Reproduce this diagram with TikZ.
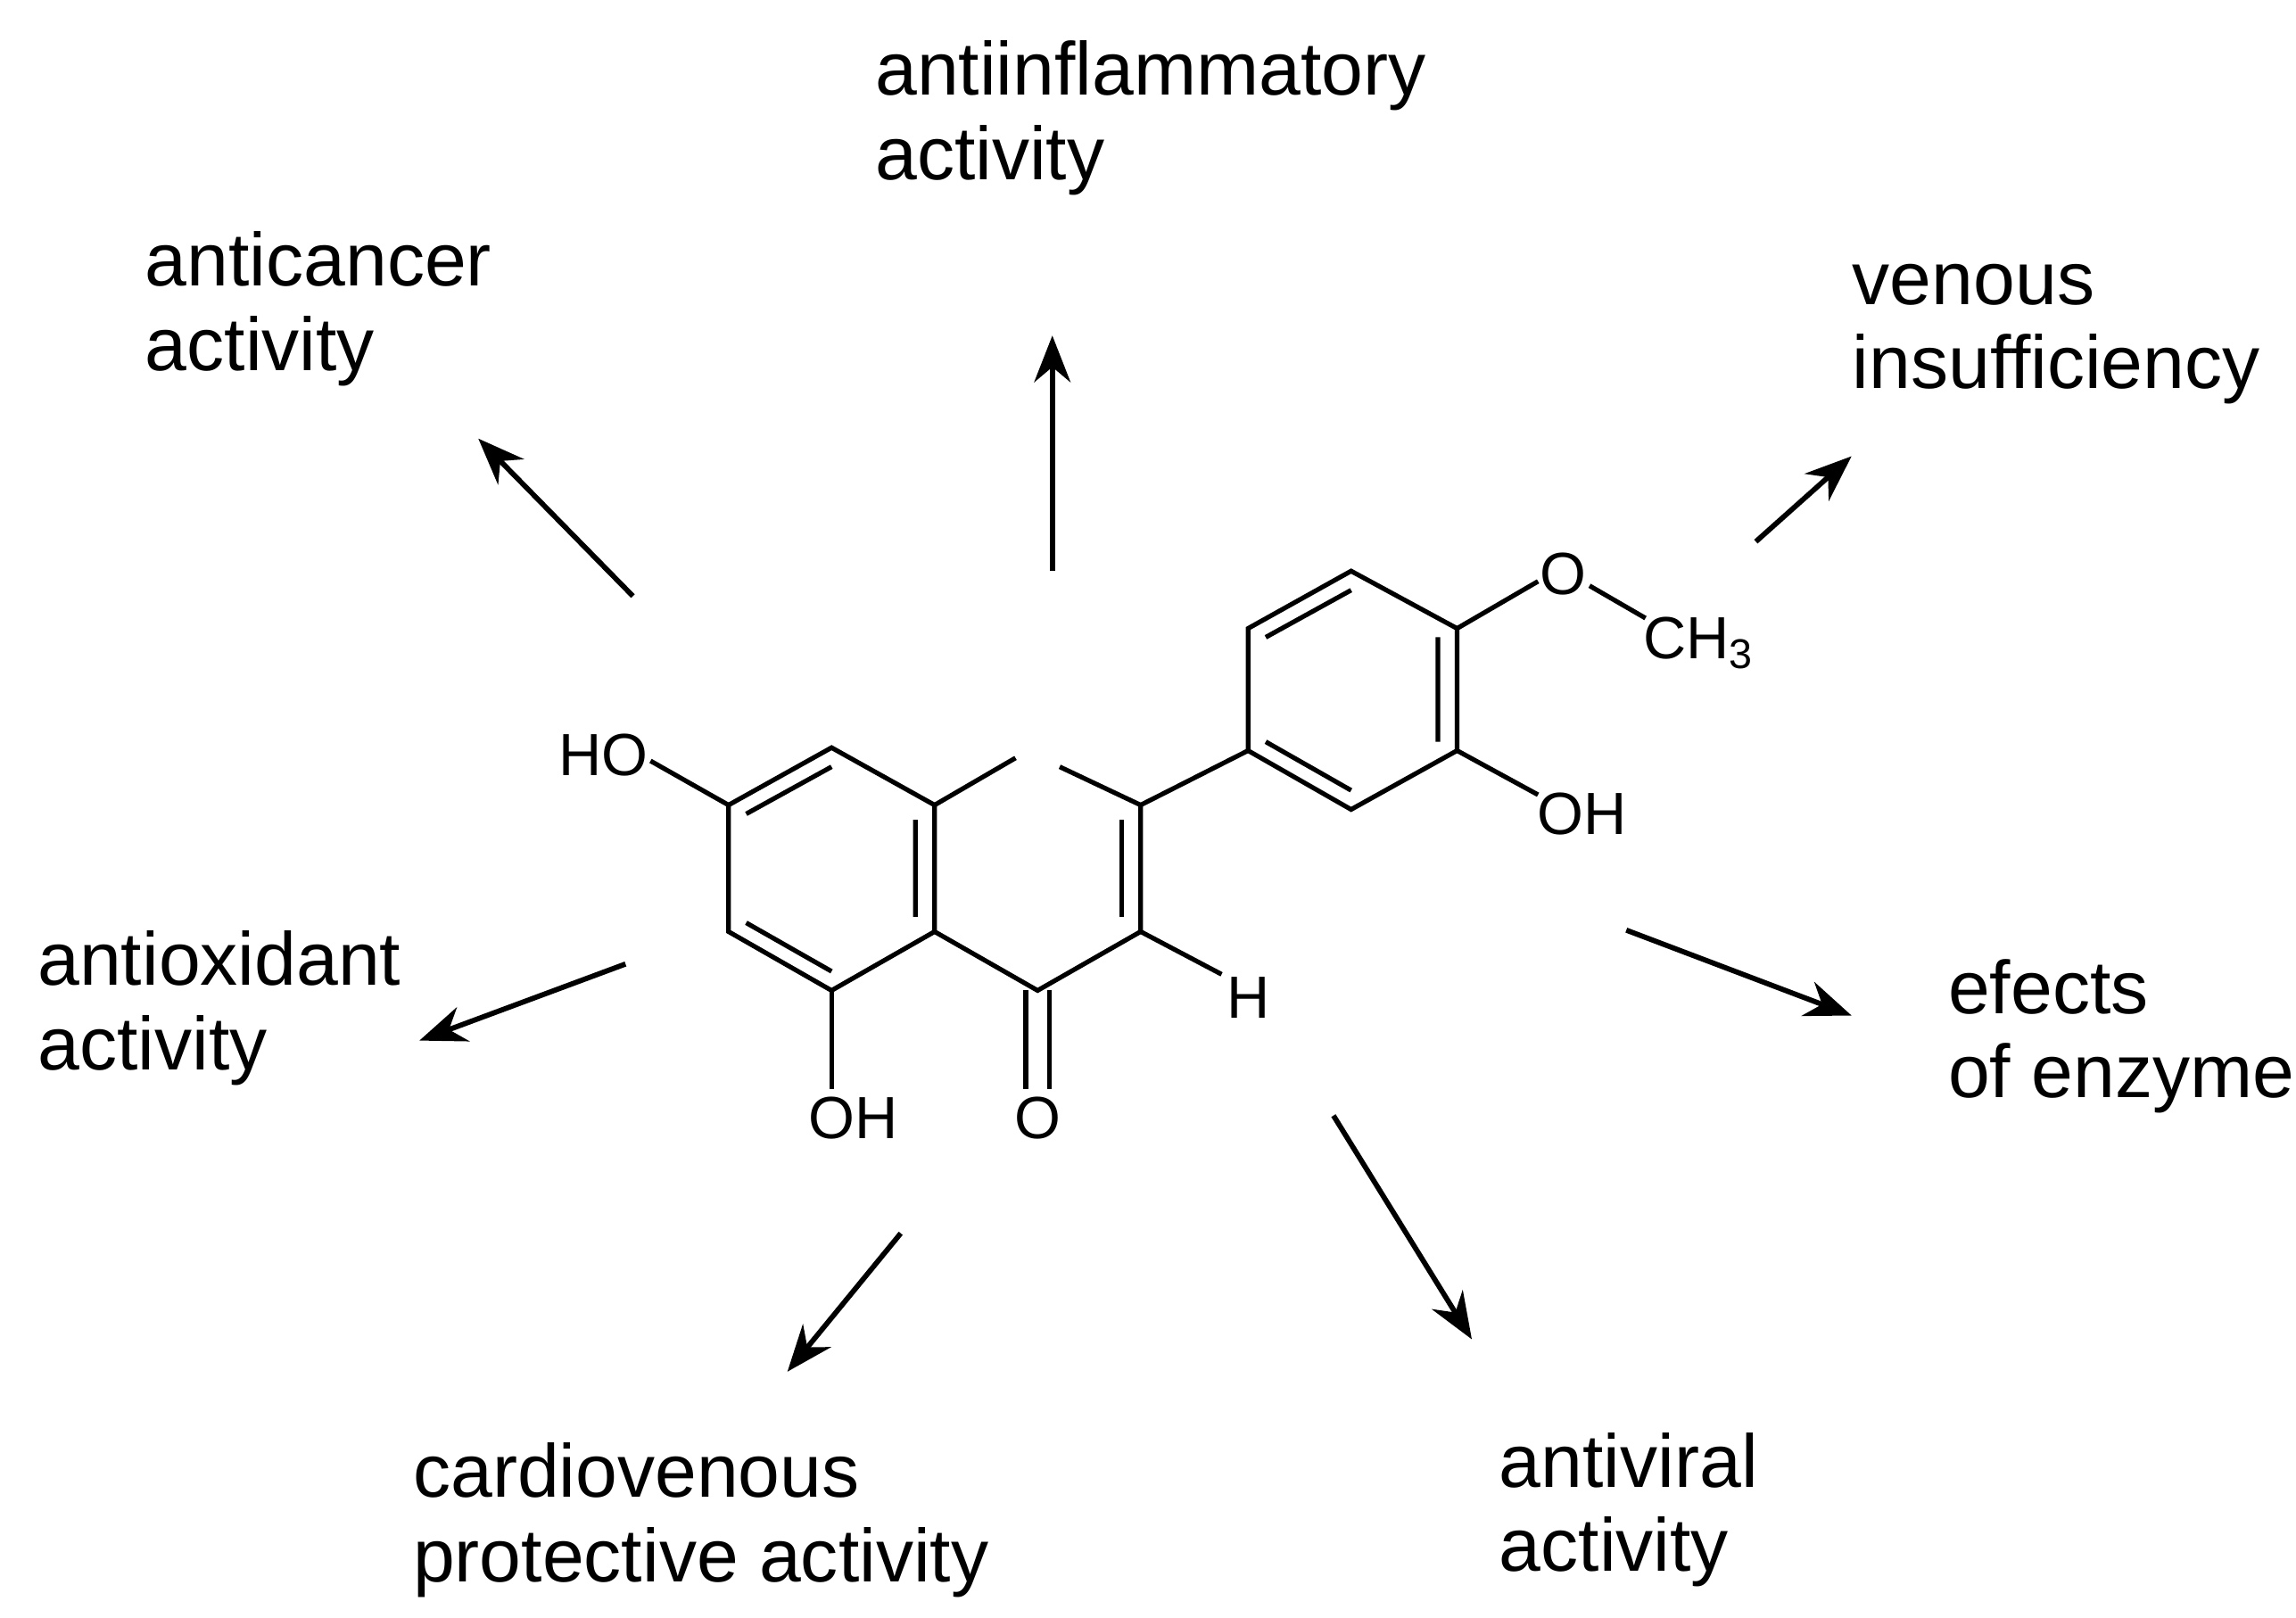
\documentclass[tikz,border=0pt]{standalone}
\usepackage{fontspec}
\setmainfont{Liberation Sans}
\usetikzlibrary{arrows.meta}
\begin{document}
\begin{tikzpicture}[x=0.01cm,y=-0.01cm,
  lab/.style={anchor=west,align=left,inner sep=0pt,font=\fontsize{14.5}{16.3}\selectfont},
  atom/.style={inner sep=0pt,font=\fontsize{11.5}{13}\selectfont},
  bond/.style={line width=0.9pt},
  arr/.style={line width=1pt,-{Stealth[length=9pt,width=7pt]}}]
\useasboundingbox (0,0) rectangle (1560,1099);
% ring A
\coordinate (a1) at (565,508); \coordinate (a2) at (635,547); \coordinate (a3) at (635,633);
\coordinate (a4) at (565,673); \coordinate (a5) at (495,633); \coordinate (a6) at (495,547);
\coordinate (o1) at (705,513); \coordinate (c2) at (775,547); \coordinate (c3) at (775,633); \coordinate (c4) at (705,673);
\draw[bond] (a1)--(a2)--(a3)--(a4)--(a5)--(a6)--cycle;
\draw[bond] (a2)--(690,515) (720,521)--(c2)--(c3)--(c4)--(a3);
\draw[bond] (507,553)--(565,521) (507,627)--(565,660) (622,557)--(622,623);
\draw[bond] (762,557)--(762,623);
% substituents ring A/C
\draw[bond] (a6)--(442,517); \node[atom] (ho1) at (410,513) {HO};
\draw[bond] (a4)--(565,740); \node[atom] (oh1) at (580,760) {OH};
\draw[bond] (697,673)--(697,740) (713,673)--(713,740); \node[atom] (ok) at (705,760) {O};
\draw[bond] (c3)--(830,662); \node[atom] (h) at (848,678) {H};
% ring B
\coordinate (b1) at (848,427); \coordinate (b2) at (918,388); \coordinate (b3) at (990,427);
\coordinate (b4) at (990,510); \coordinate (b5) at (918,550); \coordinate (b6) at (848,510);
\draw[bond] (b1)--(b2)--(b3)--(b4)--(b5)--(b6)--cycle;
\draw[bond] (c2)--(b6);
\draw[bond] (860,433)--(918,401) (977,433)--(977,504) (918,537)--(860,504);
\draw[bond] (b3)--(1045,395); \node[atom] (om) at (1062,390) {O};
\draw[bond] (1080,398)--(1118,420); \node[atom,anchor=west] (ch3) at (1116,437) {CH\textsubscript{3}};
\draw[bond] (b4)--(1045,540); \node[atom] (oh2) at (1075,553) {OH};
% labels
\node[lab] (t1) at (98,210) {anticancer\\activity};
\node[lab] (t2) at (594,80) {antiinflammatory\\activity};
\node[lab] (t3) at (1258,227) {venous\\insufficiency};
\node[lab] (t4) at (25,685) {antioxidant\\activity};
\node[lab] (t5) at (1323,704) {efects\\of enzyme};
\node[lab] (t6) at (280,1033) {cardiovenous\\protective activity};
\node[lab] (t7) at (1018,1026) {antiviral\\activity};
% arrows
\coordinate (s1) at (430,405); \coordinate (e1) at (325,298);
\coordinate (s2) at (715,388); \coordinate (e2) at (715,228);
\coordinate (s3) at (1193,368); \coordinate (e3) at (1258,310);
\coordinate (s4) at (425,655); \coordinate (e4) at (285,707);
\coordinate (s5) at (1105,632); \coordinate (e5) at (1258,690);
\coordinate (s6) at (612,838); \coordinate (e6) at (535,932);
\coordinate (s7) at (906,758); \coordinate (e7) at (1000,910);
\foreach \i in {1,...,7} \draw[arr] (s\i)--(e\i);
\end{tikzpicture}
\end{document}
